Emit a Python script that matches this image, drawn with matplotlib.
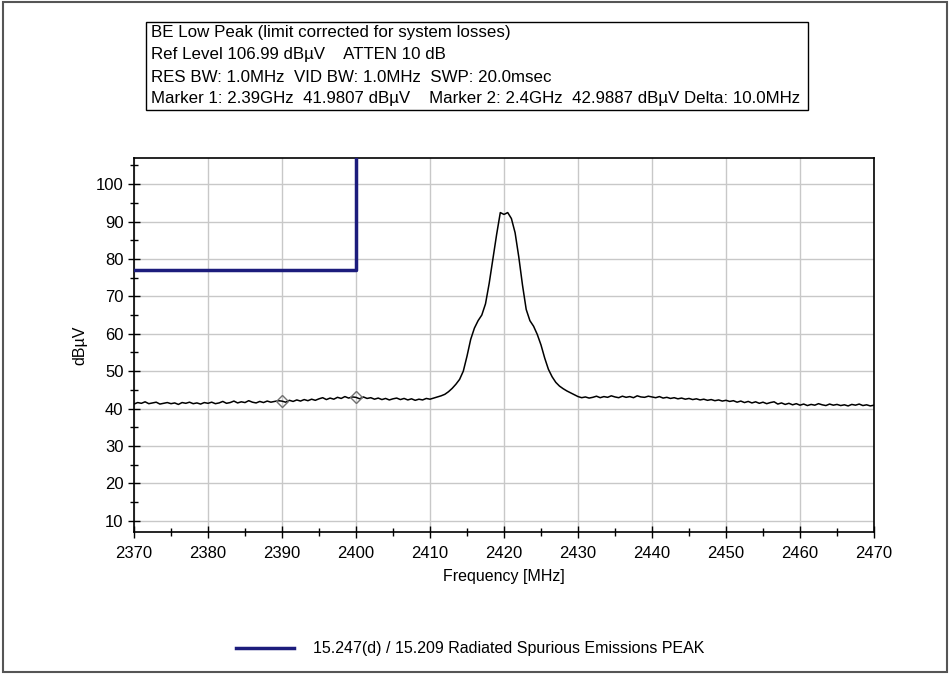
import matplotlib
matplotlib.use("Agg")
import matplotlib.pyplot as plt
import numpy as np
from matplotlib.patches import Rectangle
from matplotlib.ticker import MultipleLocator

plt.rcParams["font.family"] = ["Liberation Sans", "DejaVu Sans"]

# header text of the analyzer plot
header_lines = [
    "BE Low Peak (limit corrected for system losses)",
    "Ref Level 106.99 dB\u00b5V    ATTEN 10 dB",
    "RES BW: 1.0MHz  VID BW: 1.0MHz  SWP: 20.0msec",
    "Marker 1: 2.39GHz  41.9807 dB\u00b5V    Marker 2: 2.4GHz  42.9887 dB\u00b5V Delta: 10.0MHz",
]

# limit line (15.247(d) / 15.209)
limit_freq = [2370, 2400, 2400]
limit_level = [77.0, 77.0, 106.99]

# markers
marker_freq = [2390, 2400]
marker_level = [41.9807, 42.9887]

# measured trace, 0.5 MHz steps from 2370 to 2470 MHz
trace_freq = np.arange(2370, 2470.01, 0.5)
trace_level = [
    # 2370 - 2379.5
    41.2, 41.6, 41.4, 41.8, 41.3, 41.5, 41.7, 41.2, 41.4, 41.6,
    41.3, 41.5, 41.1, 41.6, 41.4, 41.7, 41.3, 41.5, 41.2, 41.6,
    # 2380 - 2389.5
    41.4, 41.7, 41.3, 41.5, 41.9, 41.4, 41.6, 42.0, 41.5, 41.8,
    41.6, 42.1, 41.7, 41.5, 41.9, 41.6, 42.0, 41.7, 41.9, 42.1,
    # 2390 - 2399.5
    41.98, 41.7, 42.2, 41.9, 42.3, 42.0, 42.4, 42.1, 42.5, 42.2,
    42.6, 42.9, 42.4, 42.8, 42.5, 43.0, 42.7, 43.2, 42.8, 43.1,
    # 2400 - 2409.5
    42.99, 42.6, 43.1, 42.7, 42.9, 42.5, 42.8, 42.4, 42.7, 42.3,
    42.6, 42.8, 42.4, 42.7, 42.3, 42.6, 42.2, 42.5, 42.3, 42.7,
    # 2410 - 2419.5
    42.5, 42.8, 43.1, 43.4, 43.8, 44.5, 45.4, 46.5, 47.8, 50.0,
    54.0, 58.5, 61.5, 63.5, 65.0, 68.0, 73.5, 80.0, 86.5, 92.4,
    # 2420 - 2429.5
    91.9, 92.4, 90.8, 87.0, 80.5, 73.0, 66.5, 63.5, 62.0, 59.8,
    57.0, 53.5, 50.5, 48.5, 47.0, 46.0, 45.3, 44.7, 44.2, 43.7,
    # 2430 - 2439.5
    43.2, 42.9, 43.1, 42.8, 43.0, 43.3, 42.9, 43.2, 43.0, 43.4,
    43.1, 42.9, 43.3, 43.0, 43.2, 42.9, 43.4, 43.1, 43.0, 43.3,
    # 2440 - 2449.5
    43.1, 42.9, 43.2, 42.8, 43.0, 42.7, 42.9, 42.6, 42.8, 42.5,
    42.7, 42.4, 42.6, 42.3, 42.5, 42.2, 42.4, 42.1, 42.3, 42.0,
    # 2450 - 2459.5
    42.2, 41.9, 42.1, 41.7, 42.0, 41.6, 41.9, 41.5, 41.8, 41.4,
    41.7, 41.3, 41.6, 41.8, 41.2, 41.5, 41.1, 41.4, 41.0, 41.3,
    # 2460 - 2470
    40.9, 41.2, 40.8, 41.1, 40.9, 41.3, 41.0, 40.8, 41.2, 40.9,
    41.1, 40.8, 41.0, 40.7, 41.1, 40.9, 41.2, 40.8, 41.0, 40.7,
    40.9,
]

navy = "#1c1c7c"

fig = plt.figure(figsize=(9.5, 6.74), dpi=100)
ax = fig.add_axes([134 / 950, 1 - 532 / 674, 740 / 950, 374 / 674])

ax.plot(trace_freq, trace_level, color="black", lw=1.1, zorder=3)
limit, = ax.plot(limit_freq, limit_level, color=navy, lw=2.5, zorder=4,
                 label="15.247(d) / 15.209 Radiated Spurious Emissions PEAK")
ax.plot(marker_freq, marker_level, ls="none", marker="D", ms=6,
        mfc="none", mec="#707070", mew=1, zorder=5)

ax.set_xlim(2370, 2470)
ax.set_ylim(6.99, 106.99)
ax.xaxis.set_major_locator(MultipleLocator(10))
ax.xaxis.set_minor_locator(MultipleLocator(5))
ax.yaxis.set_major_locator(MultipleLocator(10))
ax.yaxis.set_minor_locator(MultipleLocator(5))
ax.set_yticks(np.arange(10, 101, 10))
ax.tick_params(which="major", direction="inout", length=8, width=1, labelsize=12)
ax.tick_params(which="minor", direction="inout", length=6, width=1)
ax.tick_params(axis="x", pad=6)
ax.grid(True, which="major", color="#c8c8c8", lw=1)
for s in ax.spines.values():
    s.set_color("black")
    s.set_linewidth(1.2)

ax.set_xlabel("Frequency [MHz]", fontsize=11.5, labelpad=6)
ax.set_ylabel("dB\u00b5V", fontsize=11.5, labelpad=6)

# header box
fig.patches.append(Rectangle((146 / 950, 1 - 110 / 674), 662 / 950, 88 / 674,
                             transform=fig.transFigure, fill=False,
                             edgecolor="black", lw=1))
for i, line in enumerate(header_lines):
    fig.text(151 / 950, 1 - (33 + 22 * i) / 674, line, fontsize=12.2,
             va="center", ha="left")

fig.legend(handles=[limit], loc="center", bbox_to_anchor=(0.495, 1 - 649 / 674),
           frameon=False, fontsize=11.5, handlelength=3.6, handletextpad=1.2)

# outer frame
fig.patches.append(Rectangle((0.003, 0.003), 0.994, 0.994, transform=fig.transFigure,
                             fill=False, edgecolor="#555555", lw=1.5))

fig.savefig("out.png", dpi=100)
